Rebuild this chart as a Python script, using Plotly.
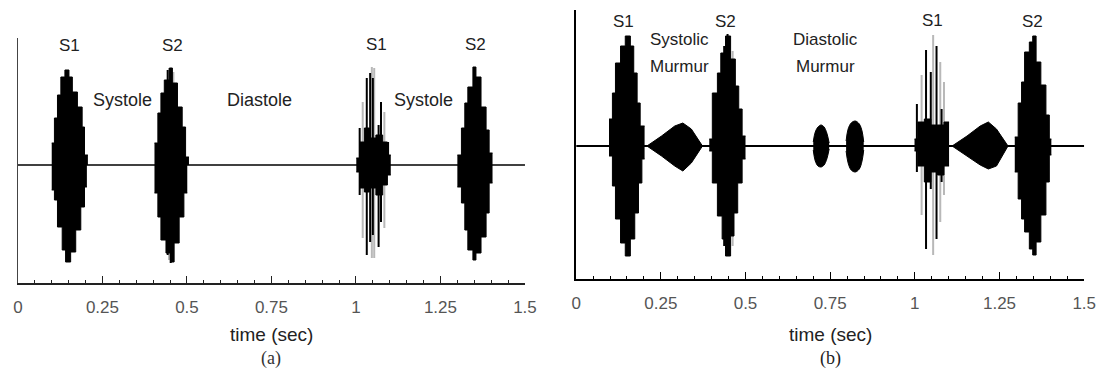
import plotly.graph_objects as go

# ---------------- data (amplitude units) ----------------
TICK_VALS = [0, 0.25, 0.5, 0.75, 1, 1.25, 1.5]
TICK_TEXT = ["0", "0.25", "0.5", "0.75", "1", "1.25", "1.5"]

# Panel (a) – normal heart sound
A_S1_T_UP = [0.100, 0.108, 0.117, 0.127, 0.139, 0.151, 0.161, 0.176, 0.190, 0.197, 0.207]
A_S1_UP = [0.22, 0.47, 0.70, 0.88, 0.95, 0.88, 0.73, 0.58, 0.38, 0.10]
A_S1_T_LO = [0.100, 0.108, 0.117, 0.131, 0.141, 0.156, 0.171, 0.186, 0.197, 0.204]
A_S1_LO = [0.25, 0.35, 0.62, 0.85, 0.97, 0.87, 0.65, 0.42, 0.22]

A_S2_T_UP = [0.404, 0.414, 0.423, 0.433, 0.448, 0.457, 0.472, 0.486, 0.496, 0.506]
A_S2_UP = [0.22, 0.52, 0.72, 0.85, 0.97, 0.82, 0.58, 0.38, 0.08]
A_S2_T_LO = [0.404, 0.414, 0.423, 0.438, 0.452, 0.462, 0.477, 0.491, 0.501]
A_S2_LO = [0.28, 0.52, 0.75, 0.88, 0.97, 0.78, 0.52, 0.28]

A_S1B_T = [1.001, 1.011, 1.025, 1.040, 1.059, 1.079, 1.093, 1.103]
A_S1B_UP = [0.07, 0.23, 0.37, 0.27, 0.30, 0.23, 0.10]
A_S1B_LO = [0.07, 0.23, 0.27, 0.23, 0.30, 0.20, 0.10]

A_S2B_T = [1.300, 1.312, 1.322, 1.331, 1.346, 1.355, 1.370, 1.385, 1.394, 1.404]
A_S2B_UP = [0.10, 0.37, 0.62, 0.78, 0.98, 0.88, 0.58, 0.35, 0.12]
A_S2B_LO = [0.22, 0.38, 0.65, 0.85, 0.95, 0.88, 0.72, 0.48, 0.18]

A_SPIKE_T = [0.443, 0.452, 1.011, 1.032, 1.042, 1.050, 1.067, 1.074, 1.095]
A_SPIKE_UP = [0.95, 0.97, 0.37, 0.87, 0.92, 0.87, 0.40, 0.63, 0.23]
A_SPIKE_LO = [0.90, 0.98, 0.30, 0.90, 0.77, 0.70, 0.82, 0.57, 0.10]
A_GRAY_T = [0.447, 0.460, 1.020, 1.047, 1.054, 1.084]
A_GRAY_UP = [0.97, 0.93, 0.63, 0.98, 0.97, 0.53]
A_GRAY_LO = [0.95, 0.97, 0.73, 0.93, 0.93, 0.63]

# Panel (b) – heart sound with murmurs
B_S1_T_UP = [0.097, 0.107, 0.116, 0.131, 0.145, 0.160, 0.170, 0.180, 0.189, 0.202]
B_S1_UP = [0.27, 0.53, 0.83, 1.00, 1.10, 1.00, 0.73, 0.43, 0.20]
B_S1_T_LO = [0.097, 0.107, 0.116, 0.131, 0.145, 0.160, 0.173, 0.184, 0.194, 0.202]
B_S1_LO = [0.10, 0.40, 0.73, 0.97, 1.10, 0.93, 0.67, 0.37, 0.13]

B_M1_T = [0.209, 0.252, 0.291, 0.315, 0.340, 0.373]
B_M1_UP = [0.00, 0.10, 0.20, 0.23, 0.17, 0.00]
B_M1_LO = [0.00, 0.10, 0.20, 0.25, 0.17, 0.00]

B_S2_T_UP = [0.393, 0.402, 0.417, 0.427, 0.441, 0.456, 0.470, 0.480, 0.490, 0.500]
B_S2_UP = [0.07, 0.53, 0.73, 0.93, 1.10, 0.87, 0.60, 0.37, 0.10]
B_S2_T_LO = [0.393, 0.402, 0.417, 0.431, 0.441, 0.456, 0.466, 0.477, 0.490, 0.500]
B_S2_LO = [0.05, 0.37, 0.70, 0.93, 1.10, 0.90, 0.67, 0.37, 0.13]

B_D1_T = [0.700, 0.706, 0.714, 0.723, 0.732, 0.740, 0.747]
B_D1_UP = [0.04, 0.14, 0.19, 0.21, 0.19, 0.13, 0.03]
B_D1_LO = [0.04, 0.15, 0.20, 0.21, 0.19, 0.13, 0.03]
B_D2_T = [0.797, 0.803, 0.812, 0.824, 0.836, 0.844, 0.849]
B_D2_UP = [0.05, 0.17, 0.23, 0.25, 0.22, 0.15, 0.04]
B_D2_LO = [0.05, 0.17, 0.24, 0.26, 0.23, 0.15, 0.04]

B_S1B_T = [0.999, 1.009, 1.028, 1.047, 1.067, 1.086, 1.101]
B_S1B_UP = [0.07, 0.24, 0.27, 0.21, 0.21, 0.24]
B_S1B_LO = [0.05, 0.20, 0.36, 0.26, 0.29, 0.20]

B_M2_T = [1.110, 1.154, 1.193, 1.217, 1.241, 1.275]
B_M2_UP = [0.00, 0.10, 0.20, 0.24, 0.17, 0.00]
B_M2_LO = [0.00, 0.10, 0.19, 0.23, 0.20, 0.00]

B_S2B_T = [1.295, 1.305, 1.315, 1.324, 1.338, 1.348, 1.358, 1.372, 1.387, 1.397, 1.403]
B_S2B_UP = [0.09, 0.43, 0.64, 0.94, 1.04, 1.10, 0.84, 0.61, 0.31, 0.07]
B_S2B_LO = [0.26, 0.53, 0.73, 0.86, 1.03, 1.09, 0.96, 0.69, 0.36, 0.09]

B_SPIKE_T = [0.437, 0.447, 1.006, 1.033, 1.047, 1.064, 1.079, 1.094]
B_SPIKE_UP = [1.00, 1.12, 0.42, 0.96, 0.74, 1.00, 0.37, 0.24]
B_SPIKE_LO = [1.00, 1.05, 0.26, 1.03, 0.43, 0.93, 0.36, 0.06]
B_GRAY_T = [0.452, 0.462, 1.020, 1.054, 1.075, 1.086]
B_GRAY_UP = [1.05, 0.95, 0.71, 1.11, 0.84, 0.64]
B_GRAY_LO = [1.10, 1.00, 0.69, 1.09, 0.76, 0.49]

# labels
A_LABELS = ["S1", "S2", "S1", "S2", "Systole", "Diastole", "Systole"]
A_LABEL_T = [0.154, 0.457, 1.060, 1.355, 0.310, 0.714, 1.200]
A_LABEL_Y = [1.20, 1.20, 1.21, 1.21, 0.65, 0.65, 0.65]
B_LABELS = ["S1", "S2", "S1", "S2", "Systolic", "Murmur", "Diastolic", "Murmur"]
B_LABEL_T = [0.140, 0.440, 1.053, 1.347, 0.305, 0.305, 0.737, 0.737]
B_LABEL_Y = [1.24, 1.24, 1.25, 1.24, 1.06, 0.79, 1.06, 0.79]

# ---------------- figure ----------------
FONT = "Liberation Sans, Arial, sans-serif"
fig = go.Figure()

# page body has an 8px margin: figure is sized so the page is exactly 1117x378
PAGE_W, PAGE_H, OFF = 1117, 378, 8
W, H = PAGE_W - 2 * OFF, PAGE_H - 2 * OFF


def px_x(p):
    return (p - OFF) / W


def px_y(p):
    return 1 - (p - OFF) / H


def step_fill(t, vals, sign, xa, ya):
    ys = [sign * v for v in vals] + [sign * vals[-1]]
    fig.add_trace(go.Scatter(x=t, y=ys, xaxis=xa, yaxis=ya, mode="lines",
                             line=dict(color="black", width=1, shape="hv"),
                             fill="tozeroy", fillcolor="black", hoverinfo="skip",
                             showlegend=False))


def smooth_fill(t, vals, sign, xa, ya, shape="linear"):
    ys = [sign * v for v in vals]
    fig.add_trace(go.Scatter(x=t, y=ys, xaxis=xa, yaxis=ya, mode="lines",
                             line=dict(color="black", width=1, shape=shape),
                             fill="tozeroy", fillcolor="black", hoverinfo="skip",
                             showlegend=False))


def spikes(t, up, lo, color, xa, ya, width=1.6):
    xs, ys = [], []
    for ti, u, l in zip(t, up, lo):
        xs += [ti, ti, None]
        ys += [u, -l, None]
    fig.add_trace(go.Scatter(x=xs, y=ys, xaxis=xa, yaxis=ya, mode="lines",
                             line=dict(color=color, width=width), hoverinfo="skip",
                             showlegend=False))


# baselines
fig.add_trace(go.Scatter(x=[0, 1.5], y=[0, 0], xaxis="x", yaxis="y", mode="lines",
                         line=dict(color="black", width=1.5), showlegend=False))
fig.add_trace(go.Scatter(x=[0, 1.5], y=[0, 0], xaxis="x2", yaxis="y2", mode="lines",
                         line=dict(color="black", width=1.8), showlegend=False))

# panel a
spikes(A_GRAY_T, A_GRAY_UP, A_GRAY_LO, "#b8b8b8", "x", "y", 2)
step_fill(A_S1_T_UP, A_S1_UP, 1, "x", "y")
step_fill(A_S1_T_LO, A_S1_LO, -1, "x", "y")
step_fill(A_S2_T_UP, A_S2_UP, 1, "x", "y")
step_fill(A_S2_T_LO, A_S2_LO, -1, "x", "y")
step_fill(A_S1B_T, A_S1B_UP, 1, "x", "y")
step_fill(A_S1B_T, A_S1B_LO, -1, "x", "y")
step_fill(A_S2B_T, A_S2B_UP, 1, "x", "y")
step_fill(A_S2B_T, A_S2B_LO, -1, "x", "y")
spikes(A_SPIKE_T, A_SPIKE_UP, A_SPIKE_LO, "black", "x", "y", 2)

# panel b
spikes(B_GRAY_T, B_GRAY_UP, B_GRAY_LO, "#b8b8b8", "x2", "y2", 2)
step_fill(B_S1_T_UP, B_S1_UP, 1, "x2", "y2")
step_fill(B_S1_T_LO, B_S1_LO, -1, "x2", "y2")
smooth_fill(B_M1_T, B_M1_UP, 1, "x2", "y2")
smooth_fill(B_M1_T, B_M1_LO, -1, "x2", "y2")
step_fill(B_S2_T_UP, B_S2_UP, 1, "x2", "y2")
step_fill(B_S2_T_LO, B_S2_LO, -1, "x2", "y2")
smooth_fill(B_D1_T, B_D1_UP, 1, "x2", "y2", "spline")
smooth_fill(B_D1_T, B_D1_LO, -1, "x2", "y2", "spline")
smooth_fill(B_D2_T, B_D2_UP, 1, "x2", "y2", "spline")
smooth_fill(B_D2_T, B_D2_LO, -1, "x2", "y2", "spline")
step_fill(B_S1B_T, B_S1B_UP, 1, "x2", "y2")
step_fill(B_S1B_T, B_S1B_LO, -1, "x2", "y2")
smooth_fill(B_M2_T, B_M2_UP, 1, "x2", "y2")
smooth_fill(B_M2_T, B_M2_LO, -1, "x2", "y2")
step_fill(B_S2B_T, B_S2B_UP, 1, "x2", "y2")
step_fill(B_S2B_T, B_S2B_LO, -1, "x2", "y2")
spikes(B_SPIKE_T, B_SPIKE_UP, B_SPIKE_LO, "black", "x2", "y2", 2)


def xaxis(domain, lc, lw, anchor):
    return dict(domain=domain, range=[0, 1.5], anchor=anchor, showgrid=False, zeroline=False,
                showline=True, linecolor=lc, linewidth=lw,
                tickmode="array", tickvals=TICK_VALS, ticktext=TICK_TEXT,
                ticks="inside", ticklen=7, tickwidth=1.3, tickcolor=lc,
                minor=dict(dtick=0.05, tick0=0, ticks="inside", ticklen=3.5,
                           tickwidth=1.2, tickcolor=lc, showgrid=False),
                ticklabelstandoff=8,
                tickfont=dict(family=FONT, size=17, color="#555"))


def yaxis(domain, rng, lc, lw, anchor):
    return dict(domain=domain, range=rng, anchor=anchor, showgrid=False, zeroline=False,
                showline=True, linecolor=lc, linewidth=lw, ticks="", showticklabels=False)


xa = xaxis([px_x(13), px_x(528)], "#222", 1.5, "y")
xb = xaxis([px_x(580), px_x(1096)], "black", 2, "y2")
ya = yaxis([px_y(283), px_y(38)], [-1.18, 1.27], "#444", 1.3, "x")
yb = yaxis([px_y(279), px_y(10)], [-1.33, 1.36], "black", 2, "x2")

annotations = []
for txt, t, y in zip(A_LABELS, A_LABEL_T, A_LABEL_Y):
    big = len(txt) > 2
    annotations.append(dict(x=t, y=y, xref="x", yref="y", text=txt, showarrow=False,
                            font=dict(family=FONT, size=18 if big else 17, color="#222")))
for txt, t, y in zip(B_LABELS, B_LABEL_T, B_LABEL_Y):
    annotations.append(dict(x=t, y=y, xref="x2", yref="y2", text=txt, showarrow=False,
                            font=dict(family=FONT, size=17, color="#222")))
annotations += [
    dict(x=0.75, y=px_y(334), xref="x", yref="paper", text="time (sec)", showarrow=False,
         yanchor="middle", font=dict(family=FONT, size=19, color="#222")),
    dict(x=0.75, y=px_y(334), xref="x2", yref="paper", text="time (sec)", showarrow=False,
         yanchor="middle", font=dict(family=FONT, size=19, color="#222")),
    dict(x=0.75, y=px_y(358), xref="x", yref="paper", text="(a)", showarrow=False,
         yanchor="middle",
         font=dict(family="Liberation Serif, Times New Roman, serif", size=18, color="#333")),
    dict(x=0.75, y=px_y(358), xref="x2", yref="paper", text="(b)", showarrow=False,
         yanchor="middle",
         font=dict(family="Liberation Serif, Times New Roman, serif", size=18, color="#222")),
]

fig.update_layout(
    width=W, height=H, margin=dict(l=0, r=0, t=0, b=0),
    paper_bgcolor="white", plot_bgcolor="white", showlegend=False,
    xaxis=xa, yaxis=ya, xaxis2=xb, yaxis2=yb, annotations=annotations,
)

fig.write_html("out.html")
